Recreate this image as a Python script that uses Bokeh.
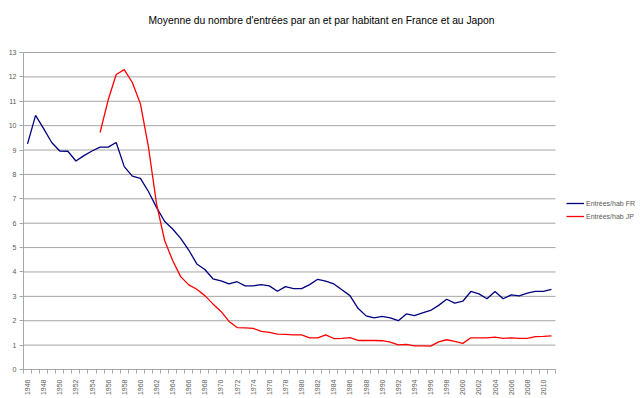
import math
from bokeh.plotting import figure
from bokeh.models import Range1d, FixedTicker, Legend, LegendItem, Label
from bokeh.embed import file_html
from bokeh.resources import INLINE

years_fr = list(range(1946, 2012))
entrees_fr = [9.25, 10.42, 9.88, 9.31, 8.96, 8.95, 8.55, 8.77, 8.96, 9.12,
              9.12, 9.31, 8.32, 7.93, 7.84, 7.3, 6.65, 6.08, 5.76, 5.38,
              4.9, 4.33, 4.1, 3.72, 3.63, 3.51, 3.6, 3.43, 3.43, 3.48,
              3.43, 3.21, 3.4, 3.32, 3.32, 3.48, 3.7, 3.62, 3.51, 3.27,
              3.03, 2.51, 2.2, 2.12, 2.18, 2.12, 2.0, 2.28, 2.21, 2.32,
              2.42, 2.63, 2.88, 2.72, 2.8, 3.2, 3.1, 2.9, 3.2, 2.9,
              3.06, 3.02, 3.13, 3.2, 3.2, 3.29]

years_jp = list(range(1955, 2012))
entrees_jp = [9.72, 11.05, 12.1, 12.3, 11.77, 10.9, 9.13, 6.8, 5.3, 4.47,
              3.81, 3.47, 3.29, 3.03, 2.69, 2.38, 1.97, 1.72, 1.71, 1.69,
              1.56, 1.52, 1.45, 1.44, 1.42, 1.42, 1.3, 1.3, 1.42, 1.27,
              1.28, 1.31, 1.19, 1.19, 1.19, 1.18, 1.12, 1.01, 1.03, 0.97,
              0.97, 0.96, 1.13, 1.22, 1.15, 1.07, 1.3, 1.3, 1.3, 1.33,
              1.28, 1.3, 1.28, 1.28, 1.35, 1.36, 1.38]

y_ticks = list(range(0, 14))
x_label_years = list(range(1946, 2011, 2))
title_text = "Moyenne du nombre d'entrées par an et par habitant en France et au Japon"
label_fr = "Entrées/hab FR"
label_jp = "Entrées/hab JP"

FONT = "Liberation Sans"
GRID = "#a6a6a6"
TXT = "#595959"

W, H = 640, 398
BL, BB = 23, 29
data_px_w = 532   # width of the category area in pixels
data_px_h = 317   # height of the 0..13 value area in pixels
x0 = years_fr[0] - 0.5
x1 = years_fr[-1] + 0.5
y_top = y_ticks[-1]
frame_w = W - BL
frame_h = H - BB
px_x = data_px_w / (x1 - x0)
px_y = data_px_h / y_top
x_end = x0 + frame_w / px_x
y_end = frame_h / px_y

p = figure(width=W, height=H, output_backend="svg", toolbar_location=None,
           x_range=Range1d(x0, x_end), y_range=Range1d(0, y_end),
           min_border_left=BL, min_border_top=0, min_border_bottom=BB,
           min_border_right=0, title=None)
p.outline_line_color = None
p.background_fill_color = "white"

# title placed above the value area (left edge 125px right of frame, 20px from top)
p.add_layout(Label(x=x0 + 125 / px_x, y=y_end - 20 / px_y, text=title_text,
                   text_font=FONT, text_font_size="10.3px", text_color="black",
                   text_align="left", text_baseline="middle"))

p.xgrid.grid_line_color = None
p.ygrid.grid_line_color = None
# horizontal gridlines limited to the category area
p.segment(x0=[x0] * len(y_ticks), x1=[x1] * len(y_ticks), y0=y_ticks, y1=y_ticks,
          line_color=GRID, line_width=1)

p.yaxis.bounds = (0, y_top)
p.yaxis.ticker = FixedTicker(ticks=y_ticks)
p.yaxis.axis_line_color = GRID
p.yaxis.major_tick_line_color = GRID
p.yaxis.major_tick_out = 4
p.yaxis.major_tick_in = 0
p.yaxis.minor_tick_line_color = None
p.yaxis.major_label_text_font = FONT
p.yaxis.major_label_text_font_size = "7px"
p.yaxis.major_label_text_color = TXT
p.yaxis.major_label_standoff = 3

p.xaxis.bounds = (x0, x1)
p.xaxis.ticker = FixedTicker(ticks=x_label_years,
                             minor_ticks=[y - 0.5 for y in years_fr] + [x1])
p.xaxis.axis_line_color = GRID
p.xaxis.major_tick_out = 0
p.xaxis.major_tick_in = 0
p.xaxis.minor_tick_line_color = GRID
p.xaxis.minor_tick_out = 4
p.xaxis.minor_tick_in = 0
p.xaxis.major_label_orientation = math.pi / 2
p.xaxis.major_label_text_font = FONT
p.xaxis.major_label_text_font_size = "7px"
p.xaxis.major_label_text_color = TXT
p.xaxis.major_label_standoff = 6

r_fr = p.line(years_fr, entrees_fr, line_color="#000080", line_width=1.3)
r_jp = p.line(years_jp, entrees_jp, line_color="#ff0000", line_width=1.3)

legend = Legend(items=[LegendItem(label=label_fr, renderers=[r_fr]),
                       LegendItem(label=label_jp, renderers=[r_jp])],
                location=(543, 148), orientation="vertical",
                label_text_font=FONT, label_text_font_size="7px",
                label_text_color=TXT, glyph_width=18, glyph_height=10,
                label_height=10, spacing=3, padding=2, margin=0,
                label_standoff=2, border_line_color=None,
                background_fill_alpha=0)
p.add_layout(legend, "center")

open("out.html", "w").write(file_html(p, INLINE))
